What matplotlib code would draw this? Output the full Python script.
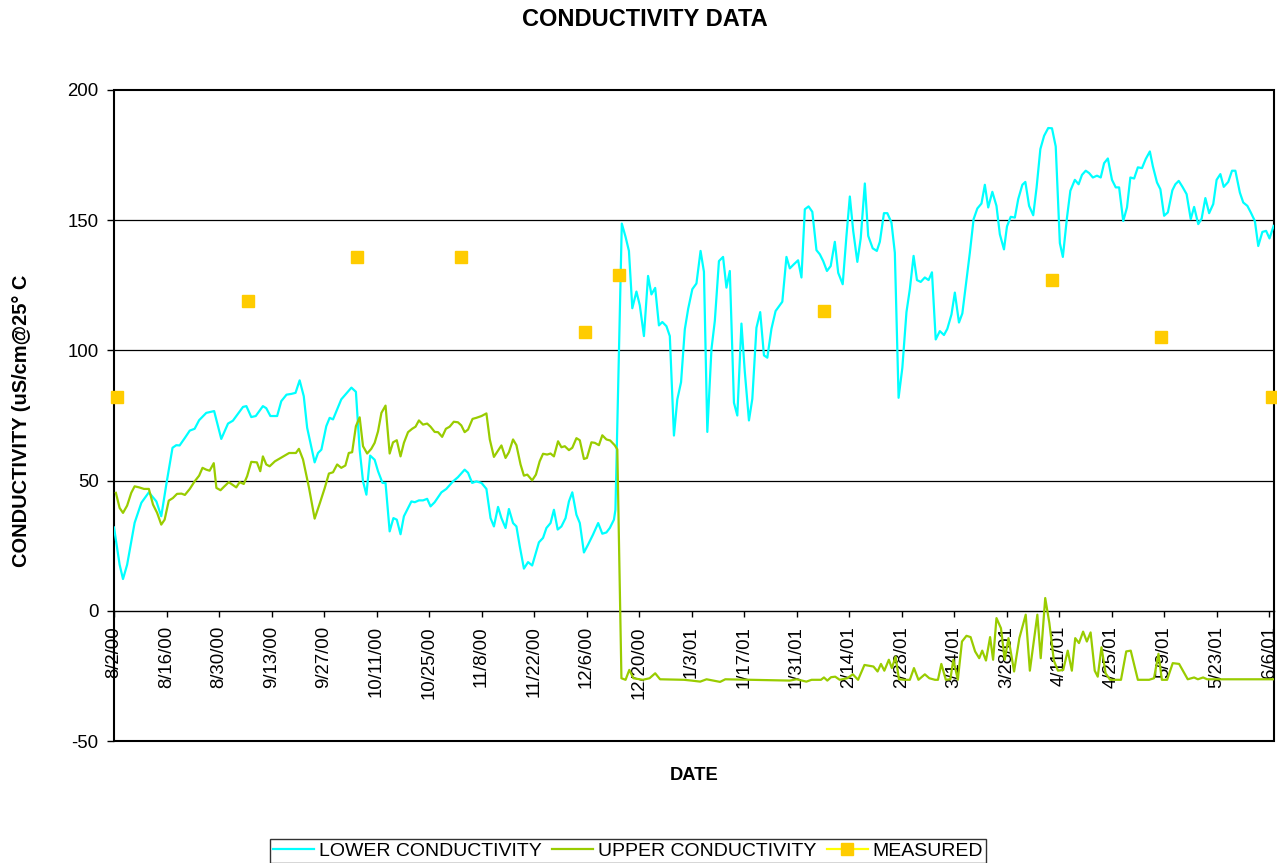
import matplotlib
matplotlib.use("Agg")
import matplotlib.pyplot as plt
import matplotlib.dates as mdates
from matplotlib.lines import Line2D
from matplotlib.patches import Rectangle
from matplotlib.ticker import FuncFormatter
import pandas as pd

plt.rcParams['font.family'] = ['Liberation Sans', 'DejaVu Sans']
plt.rcParams['axes.unicode_minus'] = False

START = "2000-08-02"

# LOWER CONDUCTIVITY: day offset from 8/2/00 and value
lower_days = [0, 1.5, 2.4, 3.5, 5.5, 7.3, 9.3, 11.3, 12.6, 14, 15.6, 16.6, 17.5, 18.9, 20.2, 21.5, 22.7, 24.6,
              26.7, 28.6, 30.4, 31.7, 34.4, 35.3, 36.6, 37.8, 39.7, 40.6, 41.7, 43.5, 44.6, 46, 47.3, 48.4,
              49.5, 50.6, 51.5, 53.5, 54.4, 55.3, 56.6, 57.5, 58.4, 60.6, 63.3, 64.5, 65.5, 66.4, 67.3, 68.3,
              69.5, 70.4, 71.6, 72.4, 73.5, 74.5, 75.4, 76.4, 77.3, 79.3, 80.2, 81.3, 82.4, 83.5, 84.4, 85.5,
              87.3, 88.6, 90.4, 91.7, 93.5, 94.4, 95.5, 96.6, 98, 99.3, 100.4, 101.3, 102.4, 103.3, 104.4,
              105.3, 106.4, 107.3, 108.2, 109.3, 110.4, 111.5, 113.3, 114.4, 115.3, 116.4, 117.3, 118.3,
              119.3, 120.4, 121.3, 122.2, 123.3, 124.2, 125.3, 126.4, 127.7, 129.1, 130.2, 131.3, 132.2,
              133.3, 133.7, 135.4, 136.4, 137.3, 138.2, 139.3, 140.2, 141.3, 142.4, 143.3, 144.3, 145.3,
              146.2, 147.3, 148.2, 149.3, 150.2, 151.2, 152.2, 153.1, 154.2, 155.3, 156.4, 157.3, 158.2,
              159.3, 160.2, 161.3, 162.4, 163.3, 164.2, 165.3, 166.2, 167.3, 168.2, 169.3, 170.2, 171.3,
              172.3, 173.3, 174.2, 175.3, 176.4, 177.5, 178.2, 179.3, 180.2, 181.3, 182.4, 183.3, 184.2,
              185.2, 186.2, 187.3, 188.2, 189.1, 190.1, 191.1, 192.2, 193.1, 194.3, 195.3, 196.2, 197.1,
              198.2, 199.1, 200.2, 201.1, 202.3, 203.4, 204.2, 205.3, 206.2, 207.3, 208.2, 209.2, 210.2,
              211.3, 212.2, 213.2, 214.1, 215.1, 216.2, 217.2, 218.1, 219.1, 220.2, 221.3, 222.2, 223.3,
              224.2, 225.3, 226.2, 228.2, 229.2, 230.2, 231.3, 232.2, 233.1, 234.2, 235.3, 236.2, 237.3,
              238.1, 239.1, 240.2, 241.1, 242.2, 243.0, 244.0, 245.1, 246.0, 247.0, 248.0, 249.1, 250.1,
              251.1, 252.2, 253.0, 254.1, 255.0, 256.2, 257.2, 258.1, 259.1, 260.0, 261.0, 262.1, 263.1,
              264.0, 265.0, 266.1, 267.1, 268.0, 269.1, 270.1, 271.0, 272.0, 273.0, 274.1, 275.1, 276.2,
              277.0, 278.1, 279.0, 280.0, 281.0, 282.2, 283.0, 283.9, 284.9, 286.0, 287.1, 288.0, 289.1,
              290.0, 291.0, 292.0, 293.1, 294.0, 295.0, 295.9, 297.1, 298.1, 299.0, 300.2, 301.1, 302.2,
              303.1, 304.2, 305.1, 306.2, 307.2, 308.1, 309.2]
lower_vals = [32, 17.7, 12.2, 17.7, 33.8, 41.5, 45.5, 42, 36.3, 49, 62.6, 63.6, 63.5, 66.4, 69.2, 69.9, 73.2, 76,
              76.7, 66, 71.9, 73, 78.3, 78.6, 74.4, 74.8, 78.6, 77.8, 74.8, 74.8, 80.5, 83, 83.3, 83.7,
              88.5, 82.4, 70.3, 57, 60.6, 61.9, 70.9, 74.1, 73.5, 81.2, 85.7, 84.1, 61.9, 49.7, 44.6, 59.6,
              58, 53.6, 49.1, 49.1, 30.5, 35.6, 35, 29.4, 36.3, 42, 41.7, 42.4, 42.4, 43, 40.1, 41.7,
              45.5, 46.8, 49.7, 51.3, 54.2, 53, 49.1, 49.7, 49.1, 46.8, 35.6, 32.4, 39.9, 35.6, 31.8,
              39.1, 33.7, 32.4, 24.7, 16.2, 18.7, 17.4, 26.3, 28, 31.8, 33.7, 38.8, 31.2,
              32.4, 35.6, 42, 45.5, 36.9, 33.7, 22.4, 25.4, 29.2, 33.7, 29.6, 30.1, 31.8,
              35, 38.8, 148.7, 143.6, 138.2, 116.2, 122.6, 117.3, 105.5, 128.6, 121.5, 124, 109.6,
              110.9, 109.3, 105.5, 67.3, 81.2, 87.8, 108.1, 116, 123.5, 125.7, 138.2, 130.2, 68.7,
              100.4, 111.3, 134.3, 135.9, 124.1, 130.5, 79.9, 75, 110.3, 91.7, 73.1, 81.4, 108.7,
              114.7, 98.1, 97.2, 108.3, 115.1, 117.3, 118.7, 135.9, 131.5, 133.1, 134.6, 128, 154.2,
              155.3, 153.2, 138.5, 136.9, 134.3, 130.5, 132.4, 141.7, 129.8, 125.4, 144, 159.1, 145.9,
              134, 143, 164.1, 144, 139.2, 138.2, 141.7, 152.7, 152.7, 149.1, 137.5, 81.8, 93.3,
              114.7, 123.5, 136.3, 127, 126.3, 128, 127, 130, 104.2, 107.4, 105.9, 108.3, 113.8,
              122.2, 110.7, 114.2, 137.5, 150.4, 154.5, 156.4, 163.6, 154.9, 160.9, 155.5, 144.6, 138.8,
              147.6, 151.3, 151, 158.1, 163.6, 164.7, 155.5, 151.9, 162.6, 177.3, 182.4, 185.4, 185.3,
              178.3, 141.2, 135.9, 151, 161.3, 165.5, 163.8, 167.4, 169, 168.1, 166.4, 167.1, 166.4,
              171.9, 173.7, 165.5, 162.6, 162.6, 149.7, 154.9, 166.4, 166, 170.3, 170, 173.5, 176.4,
              170.7, 164.5, 161.9, 151.7, 153, 161.5, 163.8, 165.1, 162.8, 160, 150.4, 155.1, 148.5,
              150.6, 158.5, 152.7, 156.2, 165.5, 167.7, 162.8, 164.7, 169, 169, 160.6, 156.8, 155.5,
              153, 149.7, 140.1, 145.5, 145.9, 143, 147.8]

# UPPER CONDUCTIVITY
upper_days = [0.5, 1.5, 2.4, 3.5, 4.6, 5.5, 6.7, 8, 9.3, 10.4, 11.5, 12.6, 13.5, 14.6, 15.7, 16.8, 18, 18.9,
              20.2, 21.5, 22.7, 23.6, 24.6, 25.5, 26.6, 27.3, 28.4, 29.3, 30.6, 31.5, 32.6, 33.5, 34.6, 35.5,
              36.6, 38.1, 39, 39.7, 40.6, 41.5, 42.9, 44.2, 45.5, 46.7, 48.5, 49.3, 50.4, 52, 53.5, 54.9,
              56.2, 57.3, 58.4, 59.5, 60.6, 61.7, 62.6, 63.5, 64.5, 65.5, 66.4, 67.5, 68.6, 69.5, 70.4, 71.3,
              72.4, 73.5, 74.4, 75.4, 76.4, 77.3, 78.4, 79.5, 80.4, 81.3, 82.4, 83.5, 84.4, 85.5, 86.4, 87.5,
              88.5, 89.5, 90.6, 91.7, 92.6, 93.5, 94.4, 95.6, 96.6, 98, 99.3, 100.2, 101.3, 102.4, 103.3,
              104.4, 105.3, 106.4, 107.3, 108.4, 109.3, 110.2, 111.5, 112.5, 113.5, 114.4, 115.5, 116.4,
              117.3, 118.4, 119.3, 120.2, 121.3, 122.2, 123.3, 124.2, 125.3, 126.1, 127.3, 128.2, 129.3,
              130.2, 131.3, 132.3, 133.5, 134.2, 135.3, 136.4, 137.4, 138.5, 141, 142.8, 144.3, 145.6, 152,
              154, 156.3, 158, 161.6, 163, 180.2, 182, 184.6, 186, 188.5, 189.3, 190.2, 191.2, 192.3,
              193.5, 195.5, 197, 198.4, 200.1, 201.7, 202.5, 203.6, 204.5, 205.4, 206.6, 207.4, 208.4,
              209.3, 210.8, 212.2, 213.3, 214.5, 216.2, 217.4, 218.9, 219.7, 220.6, 221.8, 223.0, 223.8,
              225, 226.1, 227.3, 228.4, 229.6, 230.7, 231.5, 232.5, 233.6, 234.4, 235.3, 236.5, 237.5,
              238.5, 240, 241.4, 243.1, 244.2, 246.2, 247.1, 248.3, 249.4, 250.6, 251.7, 253.1, 254.3,
              255.4, 256.3, 257.3, 258.4, 259.4, 260.4, 261.5, 262.3, 263.3, 264.4, 265.6, 268.5, 269.9,
              271.1, 273, 276, 277.3, 278.5, 279.4, 280.8, 282.3, 284, 286.3, 288, 289, 290.4, 291.5, 309.3]
upper_vals = [45.3, 39.5, 37.6, 40.4, 45.3, 47.8, 47.4, 46.8, 46.8, 40.8, 37.6, 33.1, 35, 42.3, 43.3, 44.9, 45, 44.5,
              46.8, 49.7, 51.9, 54.9, 54.2, 53.8, 56.7, 47.2, 46.3, 47.6, 49.4, 48.5, 47.4, 49.4, 48.7, 51.7,
              57.2, 57, 53.6, 59.3, 56.2, 55.5, 57.4, 58.5, 59.6, 60.6, 60.6, 62.2, 58.1, 47.2, 35.4, 41.4,
              47.2, 52.7, 53.2, 56.2, 54.9, 55.8, 60.6, 60.9, 70.9, 74.3, 63.2, 60.4, 62.2, 64.5, 68.9, 76,
              78.8, 60.4, 64.7, 65.5, 59.3, 64.5, 68.6, 69.9, 70.7, 73.1, 71.5, 71.9, 70.7, 68.7, 68.6, 66.8,
              69.9, 70.7, 72.6, 72.4, 71.2, 68.6, 69.6, 73.7, 74.1, 74.8, 75.8, 65.8, 59.1, 61.5, 63.5,
              58.7, 60.9, 65.8, 63.6, 56.2, 51.9, 52.3, 50.1, 52.3, 57.4, 60.3, 60, 60.4,
              59.3, 65.1, 62.8, 63.2, 61.7, 62.6, 66.3, 65.5, 58.3, 58.7, 64.7, 64.5, 63.6,
              67.4, 65.8, 65.4, 63.6, 62, -25.9, -26.5, -22.7, -25.9, -26.5, -25.9, -24, -26.3, -26.5,
              -26.8, -27.2, -26.3, -27.3, -26.3, -26.8, -26.3, -27.2, -26.5, -26.5, -25.6, -26.8, -25.5, -25.3,
              -26.5, -25.9, -24.4, -26.5, -20.8, -21.2, -21.4, -23.3, -20.4, -23, -18.8, -22, -17.6,
              -26.3, -26.5, -26.5, -22, -26.5, -24.4, -25.9, -26.5, -26.5, -20.4, -26.5, -26.3, -18.8,
              -26.5, -11.8, -9.6, -10.1, -15.6, -18.2, -15.3, -19.1, -10.1, -18.8, -2.8, -6.7, -18.8,
              -10.5, -23.3, -10.5, -1.5, -23, -1.5, -18.2, 4.9, -4.7, -19.1, -23, -22.7, -15.3,
              -23, -10.5, -12.4, -8, -11.8, -8.3, -23, -25.3, -14, -24, -26.5, -26.5, -15.6,
              -15.3, -26.5, -26.5, -25.9, -16.5, -26.5, -26.5, -20.1, -20.4, -26.3, -25.6, -26.3, -25.6, -26.3, -26.3]

# MEASURED
measured_days = [0.7, 35.6, 64.7, 92.5, 125.5, 134.6, 189.2, 250.0, 279.1, 308.8]
measured_vals = [82, 119, 136, 136, 107, 129, 115, 127, 105, 82]

yticks = [-50, 0, 50, 100, 150, 200]

start = pd.Timestamp(START)
def to_dates(days):
    return start + pd.to_timedelta(days, unit="D")

fig = plt.figure(figsize=(12.77, 8.63), dpi=100)
ax = fig.add_axes([114 / 1277, 1 - 741 / 863, 1160 / 1277, 651 / 863])

ax.plot(to_dates(lower_days), lower_vals, color="#00FFFF", lw=1.6, zorder=3)
ax.plot(to_dates(upper_days), upper_vals, color="#99CC00", lw=1.6, zorder=3)
ax.plot(to_dates(measured_days), measured_vals, ls="none", marker="s", ms=8.5,
        mfc="#FFCC00", mec="#FFCC00", zorder=5, clip_on=False)

ax.set_xlim(start, start + pd.Timedelta(days=309.3))
ax.set_ylim(-50, 200)
ax.set_yticks(yticks)
ax.set_xticks(pd.date_range(START, "2001-06-06", freq="14D"))
ax.xaxis.set_major_formatter(FuncFormatter(
    lambda v, p: (lambda d: f"{d.month}/{d.day}/{d.strftime('%y')}")(mdates.num2date(v))))

for y in [50, 100, 150]:
    ax.axhline(y, color="black", lw=0.9, zorder=1)

for s in ["top", "right", "left"]:
    ax.spines[s].set_visible(False)
ax.spines["bottom"].set_position(("data", 0))
ax.spines["bottom"].set_linewidth(1.0)
ax.add_patch(Rectangle((0, 0), 1, 1, transform=ax.transAxes, fill=False,
                       ec="black", lw=1.5, clip_on=False, zorder=2))

ax.tick_params(axis="x", direction="out", length=4, width=1, pad=7, labelsize=13.4,
               labelrotation=90)
ax.tick_params(axis="y", direction="out", length=5, width=1, pad=6, labelsize=13.4)

ax.set_xlabel("DATE", fontsize=13.2, fontweight="bold")
ax.xaxis.set_label_coords(0.5, 1 - (775 - 90) / 651, transform=ax.transAxes)
ax.xaxis.label.set_va("center")
ax.set_ylabel("CONDUCTIVITY (uS/cm@25° C", fontsize=14.4, fontweight="bold")
ax.yaxis.set_label_coords(22 / 1277, 1 - 421 / 863, transform=fig.transFigure)
ax.yaxis.label.set_va("center")

fig.text(645 / 1277, 1 - 20 / 863, "CONDUCTIVITY DATA", ha="center", va="center",
         fontsize=17, fontweight="bold")

handles = [
    Line2D([], [], color="#00FFFF", lw=1.6),
    Line2D([], [], color="#99CC00", lw=1.6),
    Line2D([], [], color="#FFFF00", lw=1.6, marker="s", ms=8.5, mfc="#FFCC00", mec="#FFCC00"),
]
leg = fig.legend(handles, ["LOWER CONDUCTIVITY", "UPPER CONDUCTIVITY", "MEASURED"],
                 loc="center", bbox_to_anchor=(628 / 1277, 1 - 851 / 863), ncol=3,
                 fontsize=14, frameon=True, fancybox=False, edgecolor="black",
                 handlelength=2.1, handletextpad=0.25, columnspacing=0.55, borderpad=0.15,
                 borderaxespad=0)
leg.get_frame().set_linewidth(1.0)

fig.savefig("out.png", dpi=100)
